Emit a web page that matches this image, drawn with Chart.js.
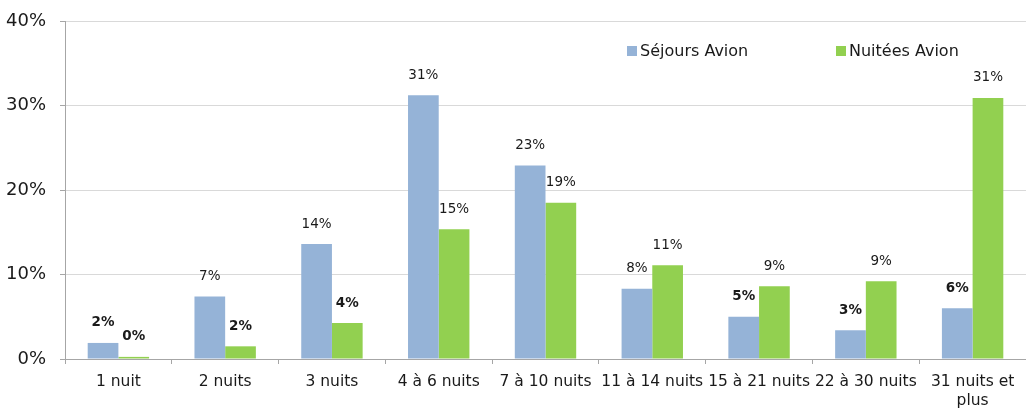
<!DOCTYPE html>
<html>
<head>
<meta charset="utf-8">
<script src="https://cdn.jsdelivr.net/npm/chart.js@4/dist/chart.umd.min.js"></script>
<style>
  html, body { margin: 0; padding: 0; background: #fff; }
  #wrap { width: 1026px; height: 410px; position: relative; }
</style>
</head>
<body>
<div id="wrap"><canvas id="chart"></canvas></div>
<script>
// Durée des séjours
const categories = ['1 nuit', '2 nuits', '3 nuits', '4 à 6 nuits', '7 à 10 nuits', '11 à 14 nuits',
    '15 à 21 nuits', '22 à 30 nuits', ['31 nuits et', 'plus']];
const sejoursAvion = [1.9, 7.4, 13.6, 31.2, 22.9, 8.3, 5.0, 3.4, 6.0];
const nuiteesAvion = [0.25, 1.5, 4.25, 15.35, 18.5, 11.1, 8.6, 9.2, 30.9];
const yTicks = [0, 10, 20, 30, 40];

// which value labels are drawn in bold
const boldSejours = [true, false, false, false, false, false, true, true, true];
const boldNuitees = [true, true, true, false, false, false, false, false, false];

const FONT = '"DejaVu Sans", sans-serif';

// value labels above the bars
const valueLabels = {
    id: 'valueLabels',
    afterDatasetsDraw(chart) {
        const ctx = chart.ctx;
        const bolds = [boldSejours, boldNuitees];
        ctx.save();
        ctx.fillStyle = '#1a1a1a';
        ctx.textAlign = 'center';
        ctx.textBaseline = 'middle';
        chart.data.datasets.forEach((ds, di) => {
            chart.getDatasetMeta(di).data.forEach((bar, i) => {
                ctx.font = (bolds[di][i] ? 'bold ' : '') + '13.5px ' + FONT;
                ctx.fillText(Math.round(ds.data[i]) + '%', bar.x, bar.y - 20);
            });
        });
        ctx.restore();
    }
};

// legend drawn inside the plot, top right
const innerLegend = {
    id: 'innerLegend',
    afterDraw(chart) {
        const ctx = chart.ctx;
        const xs = [627, 836];
        const y = 51;
        ctx.save();
        ctx.font = '16px ' + FONT;
        ctx.textBaseline = 'middle';
        chart.data.datasets.forEach((ds, i) => {
            ctx.fillStyle = ds.backgroundColor;
            ctx.fillRect(xs[i], y - 5, 10, 10);
            ctx.fillStyle = '#1a1a1a';
            ctx.fillText(ds.label, xs[i] + 13, y + 1);
        });
        ctx.restore();
    }
};

new Chart(document.getElementById('chart'), {
    type: 'bar',
    data: {
        labels: categories,
        datasets: [
            { label: 'Séjours Avion', data: sejoursAvion, backgroundColor: '#95B3D7' },
            { label: 'Nuitées Avion', data: nuiteesAvion, backgroundColor: '#92D050' }
        ]
    },
    options: {
        responsive: true, maintainAspectRatio: false,
        animation: false,
        layout: { padding: { top: 21, right: 0, left: 0, bottom: 0 } },
        datasets: { bar: { barPercentage: 1, categoryPercentage: 0.575 } },
        scales: {
            x: {
                grid: { drawOnChartArea: false, drawTicks: true, tickLength: 5, color: '#a6a6a6' },
                border: { color: '#a6a6a6' },
                ticks: { color: '#1a1a1a', font: { family: FONT, size: 15.5 }, maxRotation: 0, autoSkip: false, padding: 9 },
                afterFit(scale) { scale.height = 51; }
            },
            y: {
                min: 0, max: 40,
                afterBuildTicks(scale) { scale.ticks = yTicks.map(v => ({ value: v })); },
                grid: { color: '#d9d9d9', tickLength: 5, tickColor: '#a6a6a6' },
                border: { color: '#a6a6a6' },
                ticks: { color: '#1a1a1a', font: { family: FONT, size: 18 }, padding: 14, callback: v => v + '%' },
                afterFit(scale) { scale.width = 65; scale.paddingTop = 0; scale.paddingBottom = 0; }
            }
        },
        plugins: { legend: { display: false }, tooltip: { enabled: false } }
    },
    plugins: [valueLabels, innerLegend]
});
</script>
</body>
</html>
